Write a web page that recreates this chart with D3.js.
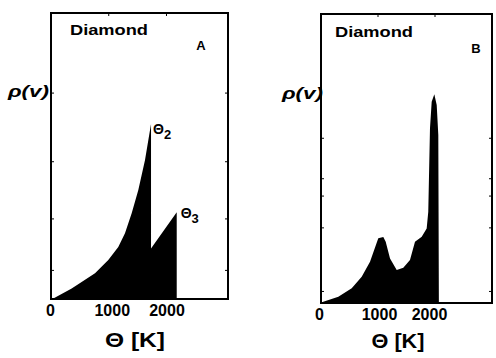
<!DOCTYPE html>
<html>
<head>
<meta charset="utf-8">
<script src="https://cdn.jsdelivr.net/npm/d3@7.8.5/dist/d3.min.js"></script>
<style>
  html, body { margin: 0; padding: 0; background: #fff; }
  svg { display: block; font-family: "Liberation Sans", Arial, sans-serif; }
  .frame { fill: none; stroke: #000; stroke-width: 2px; }
  .dos { fill: #000; stroke: none; }
  .tick line { stroke: #000; stroke-width: 1px; }
  .tick text { font-size: 16px; font-weight: bold; fill: #000; }
</style>
</head>
<body>
<script>
// Phonon density of states of diamond, panel A (Debye-like model) and B (measured)
const thetaA = [0, 40, 358, 762, 992, 1165, 1281, 1397, 1512, 1628, 1732, 1732, 2177, 2177];
const rhoA   = [0, 0.2, 3.7, 9.0, 13.6, 18.2, 23.0, 30.0, 38.1, 48.6, 61.2, 17.7, 30.3, 0];

const thetaB = [0, 40, 304, 539, 714, 860, 1005, 1093, 1135, 1211, 1328, 1444, 1561,
                1649, 1767, 1854, 1882, 1912, 1942, 1988, 2030, 2058, 2068];
const rhoB   = [0, 0.45, 2.2, 5.1, 9.1, 14.3, 22.4, 22.8, 21.2, 15.4, 11.4, 12.2, 14.9,
                21.2, 22.9, 25.8, 31.6, 60.4, 69.6, 72.2, 68.5, 58.1, 0];

const xTicks = [0, 1000, 2000];
const xTickLabels = ['0', '1000', '2000'];
const yMinorA = [10, 28, 48, 72];
const yMinorB = [4, 26, 37, 43, 57];

const W = 496, H = 358;
const svg = d3.select('body').append('svg').attr('width', W).attr('height', H);

const panels = [
  { id: 'A', theta: thetaA, rho: rhoA, yMinor: yMinorA,
    left: 51, right: 228, top: 13, bottom: 299, xMax: 3065,
    diamond: [70, 35], letter: [201, 50], rhoLab: [8, 97], unit: [135, 347],
    nudge: [-1, 3, 0] },
  { id: 'B', theta: thetaB, rho: rhoB, yMinor: yMinorB,
    left: 321, right: 492, top: 14, bottom: 303, xMax: 3000,
    diamond: [335, 37], letter: [476, 53], rhoLab: [282, 99], unit: [398, 348],
    nudge: [-2, 1, -6] }
];

panels.forEach(p => {
  const x = d3.scaleLinear().domain([0, p.xMax]).range([p.left, p.right]);
  const y = d3.scaleLinear().domain([0, 100]).range([p.bottom, p.top]);
  const g = svg.append('g');

  const pts = p.theta.map((t, i) => [t, p.rho[i]]);
  const area = d3.area()
    .x(d => x(d[0]))
    .y0(y(0))
    .y1(d => y(d[1]));
  g.append('path').datum(pts).attr('class', 'dos').attr('d', area);

  // small inner ticks on left / right borders
  p.yMinor.forEach(v => {
    g.append('line').attr('x1', p.left).attr('x2', p.left + 3)
      .attr('y1', y(v)).attr('y2', y(v)).attr('stroke', '#000').attr('stroke-width', 1);
    g.append('line').attr('x1', p.right).attr('x2', p.right - 3)
      .attr('y1', y(v)).attr('y2', y(v)).attr('stroke', '#000').attr('stroke-width', 1);
  });

  // bottom axis
  const ax = g.append('g')
    .attr('transform', `translate(0,${p.bottom})`)
    .call(d3.axisBottom(x).tickValues(xTicks)
      .tickFormat((d, i) => xTickLabels[i])
      .tickSizeInner(-3).tickSizeOuter(0).tickPadding(6));
  ax.select('.domain').remove();
  ax.selectAll('.tick text').attr('dx', (d, i) => p.nudge[i]);

  // top inner ticks
  xTicks.slice(1).forEach(v => {
    g.append('line').attr('x1', x(v)).attr('x2', x(v))
      .attr('y1', p.top).attr('y2', p.top + 3).attr('stroke', '#000').attr('stroke-width', 1);
  });

  g.append('rect').attr('class', 'frame')
    .attr('x', p.left).attr('y', p.top)
    .attr('width', p.right - p.left).attr('height', p.bottom - p.top);

  g.append('text').attr('x', p.diamond[0]).attr('y', p.diamond[1])
    .attr('font-size', 14).attr('font-weight', 'bold')
    .attr('textLength', 78).attr('lengthAdjust', 'spacingAndGlyphs')
    .text('Diamond');

  g.append('text').attr('x', p.letter[0]).attr('y', p.letter[1])
    .attr('font-size', 13).attr('font-weight', 'bold').attr('text-anchor', 'middle')
    .text(p.id);

  g.append('text').attr('x', p.rhoLab[0]).attr('y', p.rhoLab[1])
    .attr('font-size', 16).attr('font-weight', 'bold').attr('font-style', 'italic')
    .attr('textLength', 41).attr('lengthAdjust', 'spacingAndGlyphs')
    .text('ρ(v)');

  g.append('text').attr('x', p.unit[0]).attr('y', p.unit[1])
    .attr('font-size', 20).attr('font-weight', 'bold').attr('text-anchor', 'middle')
    .attr('textLength', p.id === 'A' ? 60 : 53).attr('lengthAdjust', 'spacingAndGlyphs')
    .text('Θ [K]');
});

// Θ2 / Θ3 markers on panel A, placed at the two cut-offs
const pA = panels[0];
const xA = d3.scaleLinear().domain([0, pA.xMax]).range([pA.left, pA.right]);
const yA = d3.scaleLinear().domain([0, 100]).range([pA.bottom, pA.top]);
const marks = [
  { t: thetaA[10], r: rhoA[10], sub: '2', dx: 2, dy: 10 },
  { t: thetaA[12], r: rhoA[12], sub: '3', dx: 4, dy: 6 }
];
marks.forEach(m => {
  const txt = svg.append('text')
    .attr('x', xA(m.t) + m.dx).attr('y', yA(m.r) + m.dy)
    .attr('font-size', 14).attr('font-weight', 'bold');
  txt.append('tspan').text('Θ');
  txt.append('tspan').attr('font-size', 13).attr('dy', 5).text(m.sub);
});
</script>
</body>
</html>
